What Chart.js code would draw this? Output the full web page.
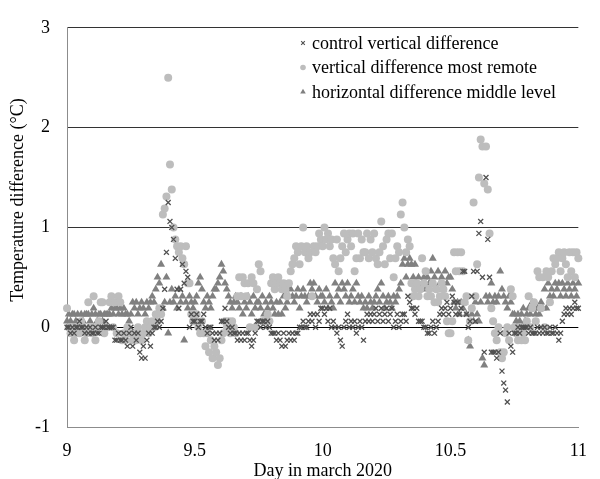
<!DOCTYPE html>
<html>
<head>
<meta charset="utf-8">
<script src="https://cdn.jsdelivr.net/npm/chart.js@4"></script>
<style>
html,body{margin:0;padding:0;background:#fff;}
#wrap{width:600px;height:479px;position:relative;}
canvas{display:block;}
</style>
</head>
<body>
<div id="wrap"><canvas id="c" width="600" height="479"></canvas></div>
<script>
// ---- data (10-minute readings, 9 March 00:00 to 11 March 00:00) ----
const startDay = 9;
const stepDay = 1 / 144;

const seriesLabels = [
  'control vertical difference',
  'vertical difference most remote',
  'horizontal difference middle level'
];

const controlVertical = [
  0, 0, -0.06, 0, -0.06, 0, 0, 0.06, 0, 0, -0.06, 0,
  -0.06, 0, -0.06, -0.06, 0, -0.06, -0.06, 0, 0, 0, 0.06, 0,
  0, 0, 0, -0.13, -0.13, -0.06, -0.13, -0.13, -0.06, -0.13, -0.19, -0.06,
  0, -0.19, -0.06, -0.13, -0.06, -0.25, -0.31, -0.19, -0.31, -0.13, -0.06, -0.19,
  -0.06, 0, 0, 0.06, 0, 0.06, 0.19, 0.38, 0.75, 1.25, 1.06, 1.0,
  0.88, 0.69, 0.38, 0.19, 0.38, 0.63, 0.44, 0.56, 0.5, 0, 0.13, 0.06,
  0.06, 0.13, 0, 0.06, 0.06, 0.13, 0, -0.06, 0, 0, -0.06, -0.13,
  -0.06, -0.13, -0.06, 0.06, 0.06, 0.19, 0.06, 0, -0.06, 0, -0.06, -0.06,
  -0.13, -0.06, -0.13, -0.06, -0.13, -0.06, -0.06, -0.13, -0.19, -0.13, -0.06, 0.06,
  0.06, 0, 0.06, 0.06, 0, 0.06, 0, -0.06, -0.06, -0.06, -0.13, -0.06,
  -0.13, -0.19, -0.06, -0.19, -0.13, -0.06, -0.13, -0.06, -0.13, -0.06, -0.06, 0,
  0, 0.06, 0, 0, 0.06, 0.13, 0.06, 0.13, 0, 0.13, 0.06, 0.19,
  0.19, 0.13, 0.19, 0.06, 0.19, 0, 0.06, 0, -0.06, 0, -0.13, -0.19,
  0, 0.06, 0.13, 0, 0.06, 0, 0.06, -0.06, 0, 0.06, 0, -0.13,
  0.06, 0.13, 0.06, 0.13, 0.06, 0.13, 0.19, 0.06, 0.13, 0.19, 0.06, 0.13,
  0.19, 0.06, 0.13, 0.19, 0, 0.06, 0.13, 0, 0.06, 0.13, 0.13, 0.06,
  0.31, 0.25, 0.19, 0.19, 0.13, 0.19, 0.06, 0.06, 0.06, 0, 0, -0.06,
  -0.06, 0, 0.06, -0.06, 0, 0.06, 0.13, 0.19, 0.13, 0.19, 0.25, 0.13,
  0.19, 0.31, 0.25, 0.13, 0.25, 0.13, 0.19, 0.56, 0.56, 0.13, 0, 0.06,
  0.31, 0.56, 0.06, 0.56, 0.94, 1.06, 0.5, -0.25, 1.5, 0.88, 0.5, -0.25,
  -0.25, -0.25, -0.31, -0.25, -0.06, -0.44, -0.56, -0.63, -0.75, -0.06, -0.19, -0.25,
  -0.06, -0.06, 0, -0.06, 0, 0, 0, 0, -0.06, 0, -0.06, -0.06,
  -0.06, 0, -0.06, 0, -0.06, 0, -0.06, -0.06, 0, -0.06, -0.06, 0,
  -0.06, -0.13, -0.06, 0.06, 0.13, 0.19, 0.13, 0.19, 0.13, 0.19, 0.25, 0.19, 0.19
];

const verticalRemote = [
  0.19, 0, -0.06, 0, -0.13, -0.06, 0, -0.06, 0.06, 0, -0.13, -0.06,
  0.25, 0, -0.06, 0.31, -0.13, 0, 0.06, 0.25, 0.25, -0.06, 0, 0,
  0.25, 0.31, 0, 0.25, -0.06, 0.31, 0.25, -0.13, -0.06, -0.13, 0, -0.06,
  -0.06, -0.13, -0.06, -0.13, 0, -0.06, -0.13, -0.06, 0, 0.06, -0.06, 0,
  0.06, 0, 0.13, 0.06, 0.19, 0.13, 1.13, 1.19, 1.31, 2.5, 1.63, 1.38,
  1.0, 0.88, 0.81, 0.75, 0.81, 0.69, 0.63, 0.81, 0.44, 0.44, 0.13, 0.06,
  0.06, 0.13, 0, -0.06, 0.06, -0.06, -0.19, -0.06, -0.25, -0.13, -0.31, -0.19,
  -0.25, -0.38, -0.31, -0.13, -0.06, 0.06, 0, 0.06, -0.06, 0.06, 0, -0.06,
  0.31, 0.5, 0.31, 0.5, 0.44, 0.31, 0.44, 0, 0.5, 0.44, 0, 0.38,
  0.63, 0.56, 0.06, 0.06, 0.06, 0.13, 0.06, 0.44, 0.5, 0.38, 0.44, 0.5,
  0.44, 0.38, 0.44, 0.38, 0.31, 0.44, 0.56, 0.63, 0.69, 0.81, 0.75, 0.63,
  0.81, 1.0, 0.75, 0.81, 0.69, 0.75, 0.31, 0.81, 0.75, 0.81, 0.94, 0.88,
  0.81, 1.0, 0.88, 0.94, 0.81, 0.88, 0.69, 0.63, 0.88, 0.56, 0.69, 0.81,
  0.94, 0.75, 0.88, 0.94, 0.81, 0.94, 0.56, 0.69, 0.94, 0.69, 0.88, 0.75,
  0.75, 0.94, 0.69, 0.88, 0.75, 0.94, 0.69, 0.63, 0.75, 1.06, 0.81, 0.63,
  0.88, 0.94, 0.69, 0.94, 0.5, 0.69, 0.81, 0.75, 1.13, 1.25, 1.0, 0.75,
  0.88, 0.81, 0.44, 0.31, 0.38, 0.44, 0.31, 0.38, 0.69, 0.44, 0.56, 0.31,
  0.38, 0.31, 0.44, 0.25, 0.38, 0.25, 0.31, 0.44, 0.38, 0.31, 0.06, -0.06,
  -0.06, 0.06, 0.75, 0.56, 0.75, 0.56, 0.75, 0.56, 0.25, 0.31, -0.13, 0.06,
  0.19, 1.25, 0.31, 0.63, 1.5, 1.88, 1.81, 1.44, 1.81, 1.38, 0.94, 0.19,
  0.06, -0.06, -0.13, 0, -0.25, -0.31, -0.25, -0.06, 0, -0.13, 0.38, 0.31,
  0, -0.06, -0.13, 0, -0.13, -0.06, -0.13, 0.06, 0.31, 0, 0.19, 0.25,
  0.06, 0.56, 0.5, 0.19, 0.5, 0, 0.56, 0.5, 0.25, 0.56, 0.69, 0.63,
  0.69, 0.75, 0.56, 0.69, 0.75, 0.63, 0.5, 0.75, 0.56, 0.75, 0.5, 0.75, 0.69
];

const horizontalMiddle = [
  0.06, 0.13, 0.06, 0.13, 0.13, 0.06, 0.13, 0, 0.13, 0.06, 0.13, 0.13,
  0.13, 0.06, 0.13, 0.19, 0.13, 0.06, 0.13, 0.13, 0.06, 0.13, 0.13, 0.13,
  0.13, 0.19, 0.13, 0.19, 0.19, 0.13, 0.19, 0.13, 0.19, 0.13, 0.13, 0.06,
  0.13, 0.25, 0.19, 0.25, 0.13, 0.19, 0.25, 0.19, 0.13, 0.25, 0.19, 0.25,
  0.31, 0.25, 0.38, 0.5, 0.44, 0.63, 0.19, 0.25, 0.5, -0.06, 0.25, 0.38,
  0.25, 0.31, 0.19, 0.38, 0.25, 0.31, -0.13, 0.25, 0.19, 0.31, 0.25, 0.19,
  0.25, 0.31, 0.44, 0.5, 0.38, 0.25, 0.19, 0.31, 0.25, 0.19, 0.31, 0.38,
  0.38, 0.44, 0.5, 0.63, 0.56, 0.44, 0.38, 0.31, 0.25, 0.19, 0.25, 0.31,
  0.25, 0.19, 0.31, 0.13, 0.25, 0.19, 0.31, 0.25, 0.13, 0.31, 0.19, 0.25,
  0.25, 0.19, 0.31, 0.13, 0.25, 0.19, 0.31, 0.25, 0.19, 0.13, 0.25, 0.13,
  0.25, 0.13, 0.31, 0.19, 0.25, 0.31, 0.38, 0.31, 0.25, 0.31, 0.38, 0.19,
  0.31, 0.38, 0.31, 0.25, 0.31, 0.44, 0.38, 0.44, 0.31, 0.25, 0.38, 0.31,
  0.31, 0.25, 0.38, 0.19, 0.31, 0.25, 0.19, 0.44, 0.31, 0.38, 0.25, 0.44,
  0.38, 0.31, 0.44, 0.25, 0.31, 0.38, 0.25, 0.44, 0.31, 0.25, 0.31, 0.19,
  0.25, 0.19, 0.31, 0.25, 0.19, 0.25, 0.31, 0.38, 0.25, 0.44, 0.31, 0.19,
  0.25, 0.31, 0.25, 0.19, 0.31, 0.25, 0.31, 0.38, 0.44, 0.63, 0.69, 0.5,
  0.63, 0.69, 0.63, 0.5, 0.63, 0.44, 0.5, 0.38, 0.44, 0.5, 0.38, 0.5,
  0.44, 0.56, 0.69, 0.5, 0.38, 0.56, 0.44, 0.5, 0.38, 0.56, 0.44, 0.5,
  0.5, 0.38, 0.25, 0.19, 0.25, 0.13, 0.25, 0.19, 0.25, 0.13, -0.13, -0.19,
  0.13, 0.06, 0.25, 0.13, 0.06, 0.25, -0.31, -0.38, 0.31, 0.25, 0.31, 0.44,
  0.25, 0.31, 0.25, 0.31, 0.56, 0.38, 0.31, 0.25, 0.19, 0.31, 0.25, 0.13,
  0.13, 0.06, 0.13, 0.06, 0.13, 0.19, 0.06, 0.13, 0.19, 0.13, 0.25, 0.19,
  0.13, 0.19, 0.13, 0.25, 0.19, 0.38, 0.19, 0.44, 0.31, 0.38, 0.31, 0.44,
  0.38, 0.44, 0.31, 0.44, 0.38, 0.31, 0.44, 0.38, 0.31, 0.44, 0.38, 0.31, 0.44
];

const xTickValues = [9, 9.5, 10, 10.5, 11];
const xTickLabels = ['9', '9.5', '10', '10.5', '11'];
const yTickValues = [-1, 0, 1, 2, 3];
const yTickLabels = ['-1', '0', '1', '2', '3'];
const xTitle = 'Day in march 2020';
const yTitle = 'Temperature difference (°C)';

// ---- chart ----
const FONT = '"Liberation Serif", "Times New Roman", serif';
const FONT_SIZE = 18;

function toPoints(values) {
  return values.map((v, i) => ({ x: startDay + i * stepDay, y: v }));
}

const textOverlay = {
  id: 'textOverlay',
  afterDraw(chart) {
    const ctx = chart.ctx;
    ctx.save();
    // legend inside the plot area
    const x0 = 303, y0 = 43, dy = 24.5;
    chart.data.datasets.forEach((ds, i) => {
      const y = y0 + i * dy;
      ctx.fillStyle = ds.backgroundColor;
      ctx.strokeStyle = ds.borderColor;
      ctx.lineWidth = ds.legendBorder;
      Chart.helpers.drawPoint(ctx, {
        pointStyle: ds.pointStyle, radius: ds.legendRadius, rotation: 0, borderWidth: ds.legendBorder
      }, x0, y);
      ctx.fillStyle = '#000';
      ctx.font = FONT_SIZE + 'px ' + FONT;
      ctx.textBaseline = 'middle';
      ctx.textAlign = 'left';
      ctx.fillText(ds.label, x0 + 9, y + 1);
    });
    // vertical axis title
    ctx.translate(18, 200);
    ctx.rotate(-Math.PI / 2);
    ctx.fillStyle = '#000';
    ctx.font = FONT_SIZE + 'px ' + FONT;
    ctx.textAlign = 'center';
    ctx.textBaseline = 'middle';
    ctx.fillText(yTitle, 0, 0);
    ctx.restore();
  }
};

new Chart(document.getElementById('c'), {
  type: 'scatter',
  data: {
    datasets: [
      {
        label: seriesLabels[0], data: toPoints(controlVertical),
        pointStyle: 'crossRot', pointRadius: 3.5, pointBorderWidth: 1.3,
        borderColor: '#505050', backgroundColor: '#505050',
        legendRadius: 2.6, legendBorder: 1.1, clip: false
      },
      {
        label: seriesLabels[1], data: toPoints(verticalRemote),
        pointStyle: 'circle', pointRadius: 4, pointBorderWidth: 0,
        borderColor: '#bdbdbd', backgroundColor: '#bdbdbd',
        legendRadius: 2.8, legendBorder: 0, clip: false
      },
      {
        label: seriesLabels[2], data: toPoints(horizontalMiddle),
        pointStyle: 'triangle', pointRadius: 4.6, pointBorderWidth: 0,
        borderColor: '#808080', backgroundColor: '#808080',
        legendRadius: 3.2, legendBorder: 0, clip: false
      }
    ]
  },
  options: {
    responsive: false,
    animation: false,
    events: [],
    layout: { padding: { top: 18, right: 8, left: 0, bottom: 0 } },
    plugins: { legend: { display: false }, tooltip: { enabled: false } },
    scales: {
      x: {
        type: 'linear', min: 9, max: 11,
        afterBuildTicks: s => { s.ticks = xTickValues.map(v => ({ value: v })); },
        afterFit: s => { s.height = 52; },
        ticks: {
          callback: v => xTickLabels[xTickValues.indexOf(v)],
          color: '#000', padding: 13, maxRotation: 0,
          font: { family: FONT, size: FONT_SIZE }
        },
        grid: { display: false, drawTicks: false },
        border: { display: true, color: '#8c8c8c', width: 1 },
        title: {
          display: true, text: xTitle, color: '#000',
          font: { family: FONT, size: FONT_SIZE, lineHeight: 1 },
          padding: { top: 0, bottom: -1 }
        }
      },
      y: {
        type: 'linear', min: -1, max: 3,
        afterBuildTicks: s => { s.ticks = yTickValues.map(v => ({ value: v })); },
        afterFit: s => { s.width = 67; },
        ticks: {
          callback: v => yTickLabels[yTickValues.indexOf(v)],
          color: '#000', padding: 17,
          font: { family: FONT, size: FONT_SIZE }
        },
        grid: {
          drawTicks: false, lineWidth: 1,
          color: c => (c.tick && c.tick.value === 0) ? '#000000'
                    : (c.tick && c.tick.value === -1) ? 'rgba(0,0,0,0)' : '#333333'
        },
        border: { display: true, color: '#8c8c8c', width: 1 },
        title: { display: false, text: yTitle }
      }
    }
  },
  plugins: [textOverlay]
});
</script>
</body>
</html>
